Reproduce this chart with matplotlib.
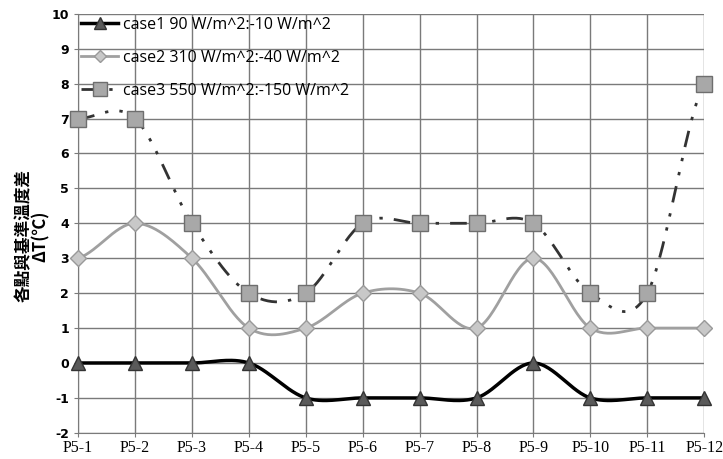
import numpy as np
import matplotlib
matplotlib.use('Agg')
import matplotlib.pyplot as plt

plt.rcParams['axes.unicode_minus'] = False

labels = ['P5-1', 'P5-2', 'P5-3', 'P5-4', 'P5-5', 'P5-6',
          'P5-7', 'P5-8', 'P5-9', 'P5-10', 'P5-11', 'P5-12']
case1 = [0, 0, 0, 0, -1, -1, -1, -1, 0, -1, -1, -1]
case2 = [3, 4, 3, 1, 1, 2, 2, 1, 3, 1, 1, 1]
case3 = [7, 7, 4, 2, 2, 4, 4, 4, 4, 2, 2, 8]
names = ['case1 90 W/m^2:-10 W/m^2',
         'case2 310 W/m^2:-40 W/m^2',
         'case3 550 W/m^2:-150 W/m^2']


def smooth(y, n=30):
    # catmull-rom curve through the points, like Excel smoothed lines
    y = np.asarray(y, float)
    p = np.concatenate([[y[0]], y, [y[-1]]])
    xs, ys = [], []
    for i in range(len(y) - 1):
        t = np.linspace(0, 1, n, endpoint=False)
        p0, p1, p2, p3 = p[i], p[i + 1], p[i + 2], p[i + 3]
        seg = 0.5 * ((2 * p1) + (-p0 + p2) * t + (2 * p0 - 5 * p1 + 4 * p2 - p3) * t ** 2
                     + (-p0 + 3 * p1 - 3 * p2 + p3) * t ** 3)
        xs.append(i + t)
        ys.append(seg)
    xs.append([len(y) - 1])
    ys.append([y[-1]])
    return np.concatenate(xs), np.concatenate(ys)


fig = plt.figure(figsize=(7.23, 4.59), dpi=100)
ax = fig.add_axes([0.108, 0.057, 0.866, 0.913])
x = np.arange(len(labels))

styles = [
    dict(color='black', lw=2.5, ls='-', marker='^', mfc='#5a5a5a', mec='#333333', ms=10),
    dict(color='#a0a0a0', lw=2.0, ls='-', marker='D', mfc='#c8c8c8', mec='#999999', ms=8),
    dict(color='#333333', lw=2.0, ls=(0, (6, 4, 1.2, 4, 1.2, 4)), marker='s', mfc='#a8a8a8', mec='#6e6e6e', ms=12),
]
for data, name, st in zip([case1, case2, case3], names, styles):
    sx, sy = smooth(data)
    ax.plot(sx, sy, color=st['color'], lw=st['lw'], ls=st['ls'], zorder=2, clip_on=False)
    ax.plot(x, data, ls='none', marker=st['marker'], mfc=st['mfc'], mec=st['mec'],
            ms=st['ms'], zorder=3, clip_on=False)
    ax.plot([], [], color=st['color'], lw=st['lw'], ls=st['ls'], marker=st['marker'],
            mfc=st['mfc'], mec=st['mec'], ms=st['ms'] * 0.8, label=name)

ax.set_xlim(0, 11)
ax.set_ylim(-2, 10)
ax.set_yticks(range(-2, 11))
ax.set_xticks(x)
ax.set_xticklabels(labels, fontfamily='Liberation Serif', fontsize=11.5)
for t in ax.get_yticklabels():
    t.set_fontweight('bold')
    t.set_fontsize(9)
ax.grid(True, color='#7a7a7a', lw=1.0)
ax.set_axisbelow(True)
ax.tick_params(length=3, color='#7a7a7a')
ax.tick_params(axis='x', pad=2)
for s in ['top', 'right']:
    ax.spines[s].set_visible(False)
for s in ['left', 'bottom']:
    ax.spines[s].set_color('#7a7a7a')

ax.set_ylabel('各點與基準溫度差\nΔT(℃)', fontfamily=['Noto Sans CJK TC', 'DejaVu Sans'],
              fontsize=12, fontweight='bold', linespacing=0.95)
ax.yaxis.set_label_coords(-0.045, 0.47)

ax.legend(loc='upper left', frameon=False, handlelength=2.3,
          borderaxespad=0.0, borderpad=0.2, labelspacing=1.05, handletextpad=0.3,
          prop={'family': ['Open Sans', 'DejaVu Sans'], 'size': 11.5})

fig.savefig('out.png', dpi=100)
